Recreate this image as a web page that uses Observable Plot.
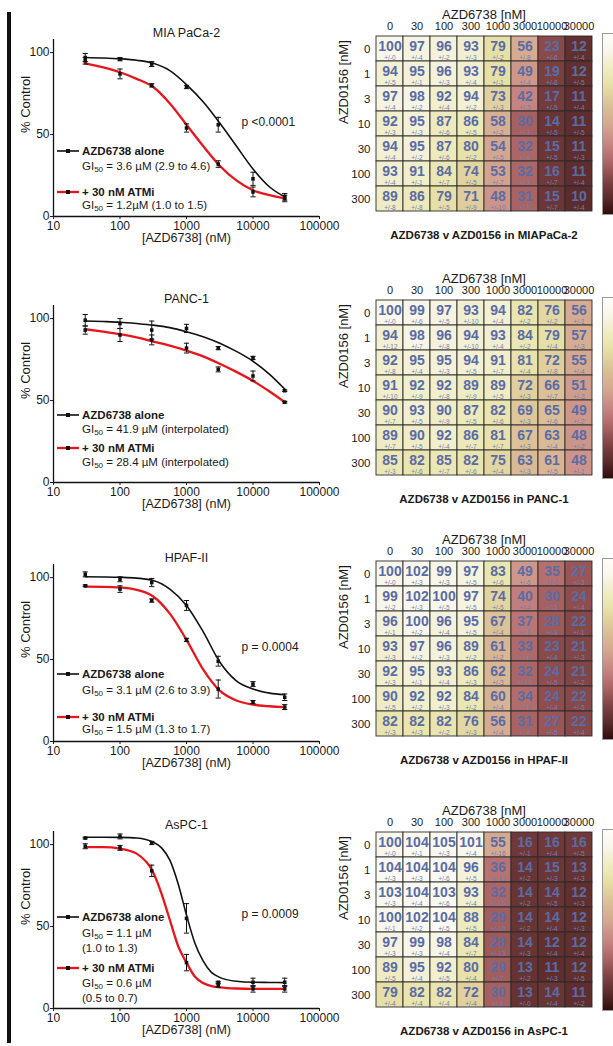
<!DOCTYPE html>
<html><head><meta charset="utf-8">
<script src="https://cdn.jsdelivr.net/npm/d3@7"></script>
<script src="https://cdn.jsdelivr.net/npm/@observablehq/plot@0.6"></script>
<style>
body{margin:0;background:#fff;font-family:"Liberation Sans",Arial,sans-serif;}
#root{position:relative;width:613px;height:1046px;overflow:hidden;background:#fff;}
.abs{position:absolute;}
.lg{position:absolute;font-size:11.5px;color:#1a1a1a;white-space:nowrap;line-height:14px;}
.lg.b{font-weight:bold;font-size:11.5px;}
sub{font-size:8px;vertical-align:-2px;line-height:0;}
</style></head><body><div id="root"></div>
<script>
// ---------- DATA ----------
const cellLines = ["MIA PaCa-2", "PANC-1", "HPAF-II", "AsPC-1"];
const heatTitles = ["AZD6738 v AZD0156 in MIAPaCa-2", "AZD6738 v AZD0156 in PANC-1", "AZD6738 v AZD0156 in HPAF-II", "AZD6738 v AZD0156 in AsPC-1"];
const xTicks = [10, 100, 1000, 10000, 100000];
const yTicks = [0, 50, 100];
const doses = [30, 100, 300, 1000, 3000, 10000, 30000];

// measured points (mean) and error bars
const aloneMean = [
  [97, 96, 93, 79, 56, 23, 12],
  [99, 97, 93, 94, 82, 76, 56],
  [102, 99, 97, 83, 49, 35, 27],
  [104, 105, 101, 55, 16, 16, 16]];
const aloneErr = [
  [2.5, 1, 1.5, 1, 4.5, 4, 2],
  [3.5, 3, 5.5, 2.5, 1, 1, 0.5],
  [1.5, 1.5, 2.5, 3, 3, 1.5, 2],
  [0.5, 1.5, 1, 9, 0.5, 2.5, 2.5]];
const atmiMean = [
  [95, 87, 80, 54, 32, 15, 11],
  [93, 90, 87, 82, 69, 65, 49],
  [95, 93, 86, 62, 32, 24, 21],
  [99, 98, 84, 28, 14, 12, 12]];
const atmiErr = [
  [2, 3, 1, 2.5, 2, 3, 2],
  [2.5, 4, 3, 3, 1.5, 3, 0.5],
  [0.5, 2, 1, 1, 5.5, 1, 1.5],
  [1.5, 1.5, 3.5, 5, 1, 2, 2]];

// fitted curves
const curveDoses = [30, 56, 100, 178, 316, 562, 1000, 1778, 3162, 5623, 10000, 17783, 30000];
const curveDosesFine = [30, 56, 100, 178, 316, 422, 562, 750, 1000, 1334, 1778, 2371, 3162, 5623, 10000, 17783, 30000];
const aloneFit = [
  [97, 96.7, 96.2, 95.3, 93.5, 89, 80.5, 70, 57, 43, 29, 18, 12],
  [98.5, 98.2, 97.8, 97, 96, 94.5, 92, 89, 85, 80, 74, 66, 57],
  [100.5, 100.4, 100.2, 99.7, 98.3, 93, 83, 67, 48.5, 37, 32, 29.5, 28.5],
  [104.5, 104.5, 104.4, 104, 101.5, 98, 90.5, 76, 57, 40, 29, 22, 19, 16.6, 16, 15.9, 15.8]];
const atmiFit = [
  [93.5, 91, 88, 84, 79, 69, 56, 43, 31, 22, 16, 13, 11],
  [93.5, 92, 90.5, 88.5, 86, 83.5, 80.5, 77, 72.5, 67.5, 62, 55.5, 49],
  [94.5, 94.4, 94, 92.5, 88.5, 78, 62, 44, 31, 25, 22.5, 21.5, 21],
  [98.5, 98.5, 97.6, 94.5, 83, 70, 54, 38, 28, 19.5, 15.5, 13.6, 12.9, 12.2, 12, 12, 12]];

const pValues = ["p <0.0001", "", "p = 0.0004", "p = 0.0009"];
const legendAlone = "AZD6738 alone";
const legendATMi = "+ 30 nM ATMi";
const giAlone = [["= 3.6 µM (2.9 to 4.6)"], ["= 41.9 µM (interpolated)"], ["= 3.1 µM (2.6 to 3.9)"], ["= 1.1 µM", "(1.0 to 1.3)"]];
const giATMi = [["= 1.2µM (1.0 to 1.5)"], ["= 28.4 µM (interpolated)"], ["= 1.5 µM (1.3 to 1.7)"], ["= 0.6 µM", "(0.5 to 0.7)"]];

// heatmaps
const colLabels = ["0", "30", "100", "300", "1000", "3000", "10000", "30000"];
const rowLabels = ["0", "1", "3", "10", "30", "100", "300"];
const heatValues = [
  [[100,97,96,93,79,56,23,12],[94,95,96,93,79,49,19,12],[97,98,92,94,73,42,17,11],[92,95,87,86,58,30,14,11],[94,95,87,80,54,32,15,11],[93,91,84,74,53,32,16,11],[89,86,79,71,48,31,15,10]],
  [[100,99,97,93,94,82,76,56],[94,98,96,94,93,84,79,57],[92,95,95,94,91,81,72,55],[91,92,92,89,89,72,66,51],[90,93,90,87,82,69,65,49],[89,90,92,86,81,67,63,48],[85,82,85,82,75,63,61,48]],
  [[100,102,99,97,83,49,35,27],[99,102,100,97,74,40,30,24],[96,100,96,95,67,37,28,22],[93,97,96,89,61,33,23,21],[92,95,93,86,62,32,24,21],[90,92,92,84,60,34,24,22],[82,82,82,76,56,31,27,22]],
  [[100,104,105,101,55,16,16,16],[104,104,104,96,36,14,15,13],[103,104,103,93,32,14,14,12],[100,102,104,88,29,14,14,12],[97,99,98,84,28,14,12,12],[89,95,92,80,29,13,11,12],[79,82,82,72,30,13,14,11]]];
const heatSD = [
  [[0,4,2,3,2,8,6,4],[5,1,3,4,1,4,6,5],[4,2,4,2,3,5,5,4],[3,3,6,5,2,7,5,5],[4,2,6,2,5,4,5,3],[4,1,7,5,7,7,7,4],[8,8,5,9,10,9,7,4]],
  [[0,6,5,10,4,2,2,1],[12,7,8,10,4,2,4,3],[8,4,3,5,7,4,8,4],[10,9,8,9,5,3,7,3],[7,5,9,5,6,3,6,2],[7,5,4,7,7,3,4,2],[3,6,7,6,4,3,5,1]],
  [[0,3,3,5,6,6,2,3],[2,3,5,5,5,4,3,4],[1,2,4,5,4,6,3,1],[3,2,3,2,2,6,4,3],[3,1,4,3,3,10,5,2],[5,2,3,2,4,6,4,5],[3,3,2,3,4,4,5,4]],
  [[0,1,3,4,16,1,4,5],[3,3,6,5,13,2,3,3],[3,4,6,4,15,2,5,3],[1,2,5,5,10,2,4,3],[3,3,4,7,13,3,4,4],[5,4,5,4,7,2,3,5],[4,4,4,4,5,0,4,2]]];

const colorDomain = [0, 10, 15, 20, 25, 32, 40, 48, 55, 65, 75, 80, 85, 90, 95, 100, 110];
const colorRange = ["#300c0c","#5c2b2b","#6c3636","#7e4242","#935050","#ad6666","#c27e7c","#cd9489","#d5a990","#dbbd96","#e3d6a0","#e8e2a8","#ece8b6","#f0edc6","#f4f1d8","#f9f7ec","#fdfcf8"];

// ---------- LAYOUT ----------
const root = document.getElementById("root");
const FONT = "'Liberation Sans', Arial, Helvetica, sans-serif";
const curveTops = [0, 266, 525, 792];          // svg top for each curve panel
const heatTops = [-1, 263, 524, 795];          // svg top for each heatmap
const legendY = [[-65,-50,-24,-11],[-67,-53,-34,-20],[-67,-51,-40,-25],[-91,-75,-40,-25]];
legendY[2] = [-67,-51,-24,-12];
const pY = -91;

function place(el, left, top) {
  el.style.position = "absolute"; el.style.left = left + "px"; el.style.top = top + "px";
  root.appendChild(el);
}

const capSymbol = {draw(ctx, size) { const r = Math.sqrt(size / Math.PI); ctx.moveTo(-r, 0); ctx.lineTo(r, 0); }};

function curvePanel(i) {
  const cx = i === 3 ? curveDosesFine : curveDoses;
  const fitA = cx.map((d, j) => ({x: d, y: aloneFit[i][j]}));
  const fitR = cx.map((d, j) => ({x: d, y: atmiFit[i][j]}));
  const pts = doses.map((d, j) => ({x: d, y: aloneMean[i][j], e: aloneErr[i][j]}))
    .concat(doses.map((d, j) => ({x: d, y: atmiMean[i][j], e: atmiErr[i][j]})));
  const marks = [
    Plot.ruleY([0], {stroke: "#111", strokeWidth: 1.3}),
    Plot.ruleX([10], {stroke: "#111", strokeWidth: 1.3}),
    Plot.axisX({ticks: xTicks, tickFormat: d => String(d), tickSize: 3, tickPadding: 2, fontSize: 12, label: null}),
    Plot.axisY({ticks: yTicks, tickSize: 3, tickPadding: 1, fontSize: 12, label: null}),
    Plot.line(fitA, {x: "x", y: "y", stroke: "#111", strokeWidth: 1.6, curve: "monotone-x"}),
    Plot.line(fitR, {x: "x", y: "y", stroke: "#e8161c", strokeWidth: 2.3, curve: "monotone-x"}),
    Plot.ruleX(pts, {x: "x", y1: d => d.y - d.e, y2: d => d.y + d.e, stroke: "#111", strokeWidth: 1}),
    Plot.dot(pts, {x: "x", y: d => d.y - d.e, symbol: capSymbol, r: 2.6, stroke: "#111", fill: "none", strokeWidth: 1}),
    Plot.dot(pts, {x: "x", y: d => d.y + d.e, symbol: capSymbol, r: 2.6, stroke: "#111", fill: "none", strokeWidth: 1}),
    Plot.dot(pts, {x: "x", y: "y", symbol: "square", r: 2, fill: "#111", stroke: "none"}),
    Plot.text([cellLines[i]], {text: d => d, frameAnchor: "top", dy: -11, fontSize: 12.5}),
    Plot.text(["[AZD6738] (nM)"], {text: d => d, frameAnchor: "bottom", dy: 25, fontSize: 12.5}),
    Plot.text(["% Control"], {text: d => d, frameAnchor: "left", dx: -28, dy: 5, rotate: -90, fontSize: 13})
  ];
  if (pValues[i]) marks.push(Plot.text([pValues[i]], {text: d => d, frameAnchor: "bottom-left", dx: 241 - 53, dy: pY, textAnchor: "start", fontSize: 12}));
  return Plot.plot({
    width: 355, height: 250, marginLeft: 53, marginRight: 36, marginTop: 39, marginBottom: 34,
    x: {type: "log", domain: [10, 100000]},
    y: {domain: [0, 108]},
    style: {fontFamily: FONT, color: "#1a1a1a", background: "transparent", overflow: "visible"},
    marks
  });
}

function heatPanel(k) {
  const data = [];
  rowLabels.forEach((r, ri) => colLabels.forEach((c, ci) => data.push({r, c, v: heatValues[k][ri][ci], s: heatSD[k][ri][ci]})));
  return Plot.plot({
    width: 278, height: 250, marginLeft: 39, marginRight: 20, marginTop: 34, marginBottom: 35,
    x: {type: "band", domain: colLabels, padding: 0},
    y: {type: "band", domain: rowLabels, padding: 0},
    color: {type: "linear", domain: colorDomain, range: colorRange},
    style: {fontFamily: FONT, color: "#1a1a1a", background: "transparent", overflow: "visible"},
    marks: [
      Plot.cell(data, {x: "c", y: "r", fill: "v", stroke: "#2b2b2b", strokeWidth: 0.9}),
      Plot.text(data, {x: "c", y: "r", text: d => String(d.v), dy: -2, fontSize: 14, fontWeight: "bold", fill: "#5a6ca6"}),
      Plot.text(data, {x: "c", y: "r", text: d => "+/-" + d.s, dy: 9, fontSize: 6.5, fill: "#6f80b6"}),
      Plot.axisX({anchor: "top", tickSize: 0, tickPadding: 4, fontSize: 11, label: null}),
      Plot.axisY({anchor: "left", tickSize: 0, tickPadding: 4, fontSize: 11.5, label: null}),
      Plot.text(["AZD6738 [nM]"], {text: d => d, frameAnchor: "top", dy: -24, fontSize: 13}),
      Plot.text(["AZD0156 [nM]"], {text: d => d, frameAnchor: "left", dx: -31, rotate: -90, fontSize: 13}),
      Plot.text([heatTitles[k]], {text: d => d, frameAnchor: "bottom", dy: 24, fontSize: 11.5, fontWeight: "bold"})
    ]
  });
}

// thick left bar
const bar = document.createElement("div");
bar.style.cssText = "width:4px;height:1031px;background:#111;";
place(bar, 7, 12);

const gradStops = colorDomain.map((v, j) => `${colorRange[j]} ${((110 - v) / 110 * 100).toFixed(1)}%`).reverse().join(",");

for (let i = 0; i < 4; i++) {
  place(curvePanel(i), 0, curveTops[i]);
  place(heatPanel(i), 335, heatTops[i]);
  // color bar
  const cb = document.createElement("div");
  cb.style.cssText = `width:16px;height:180px;border:1px solid #9a9a9a;background:linear-gradient(to bottom,${gradStops});`;
  place(cb, 602, heatTops[i] + 34);

  // legend
  const y0 = curveTops[i] + 216;
  const ly = legendY[i];
  const entries = [
    {y: ly[0], color: "#111", w: 1.6, label: legendAlone, gi: giAlone[i]},
    {y: ly[2], color: "#e8161c", w: 2.3, label: legendATMi, gi: giATMi[i]}
  ];
  entries.forEach((e, ei) => {
    const sw = document.createElement("div");
    sw.innerHTML = `<svg width="22" height="8"><line x1="0" y1="4" x2="22" y2="4" stroke="${e.color}" stroke-width="${e.w}"/><rect x="9" y="2" width="4" height="4" fill="#111"/></svg>`;
    sw.style.lineHeight = "0";
    place(sw, 57, y0 + e.y - 4);
    const t = document.createElement("div");
    t.className = "lg b"; t.textContent = e.label;
    place(t, 82, y0 + e.y - 7);
    const giY = ei === 0 ? ly[1] : ly[3];
    e.gi.forEach((line, li) => {
      const g = document.createElement("div");
      g.className = "lg";
      if (li === 0) g.innerHTML = `GI<sub>50</sub> ${line}`; else g.textContent = line;
      place(g, 82, y0 + giY + li * 15 - 7);
    });
  });
}
</script></body></html>
